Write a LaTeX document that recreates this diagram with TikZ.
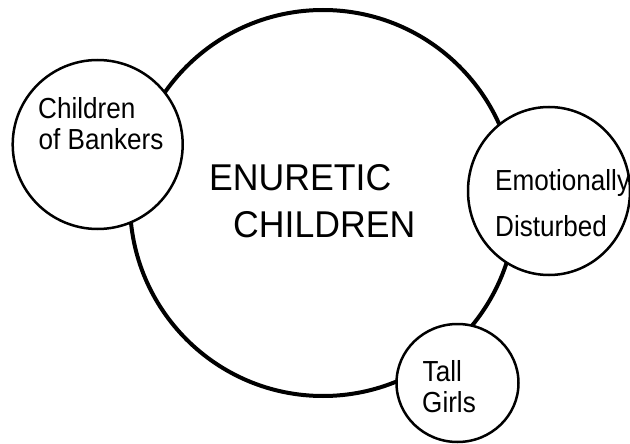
\documentclass[tikz,border=0pt]{standalone}
\usepackage{fontspec}
\setmainfont{Liberation Sans}
\newfontfamily\bigfont{Liberation Sans}[FakeStretch=0.955]
\newfontfamily\smallfont{Liberation Sans}[FakeStretch=0.9]
\usetikzlibrary{shapes.geometric}
\begin{document}
\begin{tikzpicture}[x=1pt,y=-1pt,
  bigset/.style={circle,draw,line width=4pt,inner sep=0pt,outer sep=0pt,minimum size=386pt},
  subset/.style={ellipse,draw,fill=white,line width=2.5pt,inner sep=0pt,outer sep=0pt},
  bigtext/.style={anchor=base west,inner sep=0pt,font=\bigfont\fontsize{37.3}{44}\selectfont},
  smalltext/.style={anchor=base west,inner sep=0pt,font=\smallfont\fontsize{29}{31}\selectfont}]
  \useasboundingbox (0,0) rectangle (630,444);
  % main set
  \node[bigset] (enuretic) at (323,203) {};
  % overlapping subsets
  \node[subset,minimum width=170pt,minimum height=169pt] (bankers) at (97.7,144.5) {};
  \node[subset,minimum width=162pt,minimum height=168pt] (emotional) at (549,191) {};
  \node[subset,minimum width=122pt,minimum height=118pt] (tall) at (457.5,383) {};
  % labels
  \node[bigtext] (t1) at (209,190) {ENURETIC};
  \node[bigtext] (t2) at (233,237.3) {CHILDREN};
  \node[smalltext] (b1) at (38,118.3) {Children};
  \node[smalltext] (b2) at (38.5,149.3) {of Bankers};
  \node[smalltext] (e1) at (495,190.7) {Emotionally};
  \node[smalltext] (e2) at (495,236.7) {Disturbed};
  \node[smalltext] (g1) at (422.5,381.7) {Tall};
  \node[smalltext] (g2) at (422,412.7) {Girls};
\end{tikzpicture}
\end{document}
